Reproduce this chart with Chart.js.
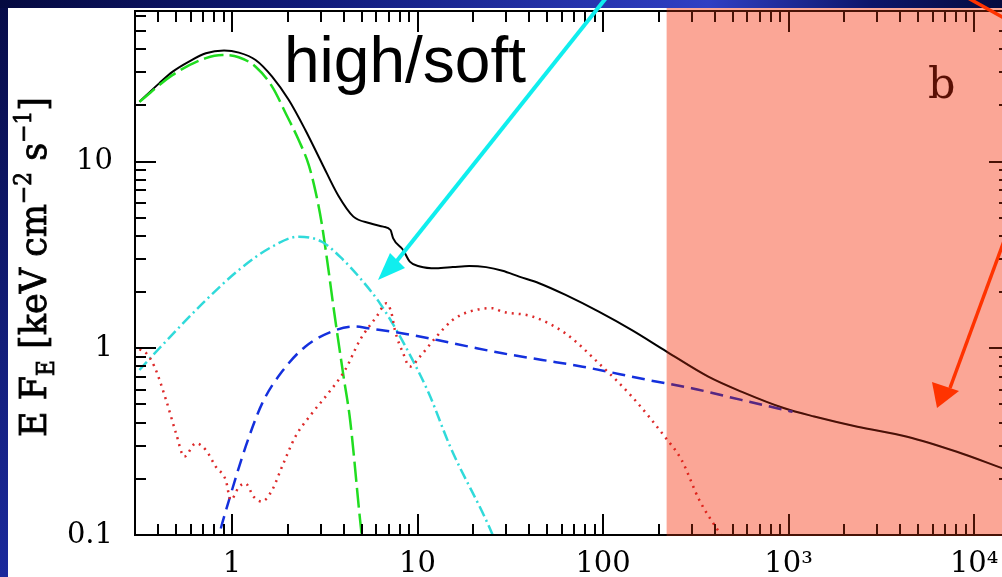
<!DOCTYPE html>
<html>
<head>
<meta charset="utf-8">
<script src="https://cdn.jsdelivr.net/npm/chart.js@4.4.0/dist/chart.umd.min.js"></script>
<style>
  html, body { margin: 0; padding: 0; overflow: hidden; background: #0b1257; }
  #wrap { position: relative; width: 1002px; height: 577px; overflow: hidden; }
  canvas { display: block; }
</style>
</head>
<body>
<div id="wrap"><canvas id="spec" width="1012" height="577"></canvas></div>
<script>
// axis ranges (keV, keV cm^-2 s^-1)
const X_MIN = 0.317, X_MAX = 15600;
const Y_MIN = 0.1, Y_MAX = 64;
const SHADE_FROM = 220;

const xTickValues = [1, 10, 100, 1000, 10000];
const xTickLabels = ["1", "10", "100", "10\u00B3", "10\u2074"];
const yTickValues = [0.1, 1, 10];
const yTickLabels = ["0.1", "1", "10"];

// total model (solid black)
const totalE = [0.317, 0.406, 0.479, 0.586, 0.723, 0.906, 1.09, 1.34, 1.645, 2.02, 2.48, 3.05, 3.73, 4.51, 5.54, 6.53, 7.15, 7.39, 8.36, 9.08, 10.3, 12.6, 15.5, 19.0, 23.4, 28.7, 35.3, 45.2, 62.8, 94.8, 143, 220, 369, 556, 949, 1374, 2350, 4355, 8070, 14130, 15600];
const totalF = [20.9, 26.3, 30.3, 34.3, 38.0, 39.3, 38.3, 35.0, 28.5, 21.4, 14.8, 9.8, 6.6, 5.07, 4.67, 4.48, 4.30, 3.88, 3.36, 2.91, 2.74, 2.68, 2.72, 2.76, 2.72, 2.60, 2.42, 2.23, 1.93, 1.57, 1.25, 0.96, 0.705, 0.586, 0.477, 0.431, 0.380, 0.336, 0.279, 0.228, 0.220];

// disc blackbody (green long dash)
const diskE = [0.317, 0.479, 0.723, 0.887, 1.086, 1.34, 1.645, 1.97, 2.29, 2.59, 2.82, 3.04, 3.31, 3.52, 3.98, 4.33, 5.0, 5.3];
const diskF = [20.9, 29.1, 35.8, 37.2, 36.2, 32.2, 25.2, 17.7, 13.0, 9.6, 6.9, 4.7, 2.63, 1.67, 0.72, 0.413, 0.1, 0.065];

// thermal comptonisation (cyan dash-dot)
const thE = [0.317, 0.406, 0.723, 1.09, 1.645, 2.29, 3.05, 3.98, 5.0, 6.27, 7.7, 9.4, 11.5, 15.0, 25.4, 27];
const thF = [0.765, 1.0, 1.81, 2.63, 3.50, 3.96, 3.72, 2.97, 2.32, 1.74, 1.25, 0.866, 0.574, 0.297, 0.1, 0.085];

// non-thermal comptonisation (blue dash)
const ntE = [0.82, 0.852, 0.964, 1.184, 1.454, 1.86, 2.48, 3.45, 4.6, 5.4, 8.36, 12.6, 19.0, 28.7, 47.0, 77.6, 175, 300, 556, 1050];
const ntF = [0.085, 0.1, 0.154, 0.297, 0.507, 0.750, 1.02, 1.23, 1.31, 1.28, 1.20, 1.11, 1.02, 0.94, 0.866, 0.797, 0.676, 0.611, 0.529, 0.457];

// reflection (red dots)
const reflE = [0.317, 0.345, 0.382, 0.441, 0.499, 0.553, 0.639, 0.723, 0.818, 0.925, 0.984, 1.09, 1.18, 1.31, 1.45, 1.645, 1.86, 2.195, 2.70, 3.30, 4.07, 4.90, 6.02, 6.8, 7.24, 7.55, 8.36, 9.08, 10.3, 12.6, 15.5, 19.0, 25.4, 28.7, 41.6, 62.8, 94.8, 143, 215, 265, 330, 416, 450];
const reflF = [0.988, 0.94, 0.797, 0.529, 0.351, 0.263, 0.310, 0.285, 0.232, 0.197, 0.154, 0.181, 0.189, 0.160, 0.151, 0.174, 0.232, 0.336, 0.449, 0.574, 0.765, 1.11, 1.48, 1.74, 1.54, 1.25, 0.94, 0.797, 0.902, 1.15, 1.42, 1.57, 1.64, 1.57, 1.48, 1.20, 0.831, 0.551, 0.336, 0.252, 0.154, 0.106, 0.095];

function pts(e, f) {
  return e.map(function (v, i) { return { x: v, y: f[i] }; });
}

function line(name, e, f, color, dash, width) {
  return {
    label: name,
    data: pts(e, f),
    borderColor: color,
    borderWidth: width,
    borderDash: dash,
    pointRadius: 0,
    fill: false,
    cubicInterpolationMode: "monotone"
  };
}

function logTicks(min, max) {
  const out = [];
  for (let p = -2; p <= 5; p++) {
    for (let m = 1; m <= 9; m++) {
      const v = m * Math.pow(10, p);
      if (v > min * 1.001 && v < max * 0.999) out.push({ v: v, major: m === 1 });
    }
  }
  return out;
}

function seg(c, x1, y1, x2, y2) {
  c.beginPath(); c.moveTo(x1, y1); c.lineTo(x2, y2); c.stroke();
}

function arrow(c, x1, y1, x2, y2, head, color, w) {
  c.strokeStyle = color; c.fillStyle = color; c.lineWidth = w;
  seg(c, x1, y1, x2, y2);
  c.beginPath();
  c.moveTo(head[0][0], head[0][1]);
  c.lineTo(head[1][0], head[1][1]);
  c.lineTo(head[2][0], head[2][1]);
  c.closePath(); c.fill();
}

function drawYTitle(c) {
  const parts = [["E F", 0, 1], ["E", 6, 0.62], [" [keV cm", 0, 1], ["\u22122", -11, 0.62], [" s", 0, 1], ["\u22121", -11, 0.62], ["]", 0, 1]];
  const size = 28;
  c.save();
  c.translate(46, 437);
  c.rotate(-Math.PI / 2);
  let w = 0;
  parts.forEach(function (p) { c.font = (size * p[2]) + "px 'DejaVu Serif'"; w += c.measureText(p[0]).width; });
  c.scale(340 / w, 1.35);
  c.fillStyle = "#000";
  c.strokeStyle = "#000";
  c.lineWidth = 0.6;
  c.textBaseline = "alphabetic";
  let x = 0;
  parts.forEach(function (p) {
    c.font = (size * p[2]) + "px 'DejaVu Serif'";
    c.fillText(p[0], x, p[1]);
    c.strokeText(p[0], x, p[1]);
    x += c.measureText(p[0]).width;
  });
  c.restore();
}

const decor = {
  id: "decor",
  beforeDraw(chart) {
    const c = chart.ctx, W = chart.width, H = chart.height;
    let g = c.createLinearGradient(0, 0, 0, H);
    g.addColorStop(0, "#070c48");
    g.addColorStop(1, "#1b2a9c");
    c.fillStyle = g;
    c.fillRect(0, 0, W, H);
    g = c.createLinearGradient(0, 0, W, 0);
    g.addColorStop(0, "#050a40");
    g.addColorStop(0.3, "#101a78");
    g.addColorStop(0.7, "#3040c4");
    g.addColorStop(0.86, "#0d166a");
    g.addColorStop(1, "#050a3c");
    c.fillStyle = g;
    c.fillRect(0, 0, W, 8);
    c.fillStyle = "#fff";
    c.fillRect(8, 8, W - 8, H - 8);
  },
  afterDatasetsDraw(chart) {
    const c = chart.ctx, a = chart.chartArea, W = chart.width;
    const xs = chart.scales.x, ys = chart.scales.y;
    c.save();
    // frame and inward ticks
    c.strokeStyle = "#000";
    c.lineWidth = 2;
    c.strokeRect(a.left, a.top, a.right - a.left, a.bottom - a.top);
    logTicks(X_MIN, X_MAX).forEach(function (t) {
      const x = Math.round(xs.getPixelForValue(t.v));
      const L = t.major ? 21 : 11;
      seg(c, x, a.bottom, x, a.bottom - L);
      seg(c, x, a.top, x, a.top + L);
    });
    logTicks(Y_MIN, Y_MAX).forEach(function (t) {
      const y = Math.round(ys.getPixelForValue(t.v));
      const L = t.major ? 21 : 11;
      seg(c, a.left, y, a.left + L, y);
      seg(c, a.right, y, a.right - L, y);
    });
    // shaded band
    const sx = xs.getPixelForValue(SHADE_FROM);
    c.globalCompositeOperation = "multiply";
    c.fillStyle = "rgb(251,166,150)";
    c.fillRect(sx, 8, W - sx, a.bottom + 1 - 8);
    c.globalCompositeOperation = "lighten";
    c.fillStyle = "rgba(240,60,20,0.3)";
    c.fillRect(sx, 8, W - sx, a.bottom + 1 - 8);
    c.globalCompositeOperation = "source-over";
    // panel letter
    c.fillStyle = "#5a1005";
    c.font = "43px 'DejaVu Serif'";
    c.textBaseline = "alphabetic";
    c.fillText("b", 928, 98);
    // label
    c.fillStyle = "#000";
    c.font = "64px 'Liberation Sans'";
    c.fillText("high/soft", 284, 82);
    // arrows
    arrow(c, 606, -2, 396, 262, [[378, 280], [390, 253], [405, 268]], "#10eeee", 4);
    arrow(c, 1004, 241, 950, 388, [[937, 408], [932, 382], [959, 391]], "#ff3300", 3.5);
    c.strokeStyle = "#ff3300";
    seg(c, 968, -2, 1004, 18);
    c.restore();
    drawYTitle(c);
  }
};

new Chart(document.getElementById("spec"), {
  type: "line",
  data: {
    datasets: [
      line("reflection", reflE, reflF, "#dd2a2a", [2, 5], 2.5),
      line("non-thermal", ntE, ntF, "#1430dd", [13, 7], 2.5),
      line("thermal", thE, thF, "#30dada", [11, 4, 2, 4], 2.5),
      line("disc", diskE, diskF, "#20dd20", [20, 6], 2.5),
      line("total", totalE, totalF, "#000000", [], 2)
    ]
  },
  options: {
    responsive: false,
    animation: false,
    events: [],
    layout: { padding: { top: 11, right: 2, bottom: 0, left: 0 } },
    plugins: { legend: { display: false }, tooltip: { enabled: false } },
    scales: {
      x: {
        type: "logarithmic",
        min: X_MIN,
        max: X_MAX,
        grid: { display: false, drawTicks: false },
        border: { display: false },
        afterBuildTicks: function (s) { s.ticks = xTickValues.map(function (v) { return { value: v }; }); },
        afterFit: function (s) { s.height = 42; s.paddingLeft = 0; s.paddingRight = 0; },
        ticks: {
          autoSkip: false,
          maxRotation: 0,
          padding: 12,
          color: "#000",
          font: { family: "DejaVu Serif", size: 29 },
          callback: function (v, i) { return xTickLabels[i]; }
        }
      },
      y: {
        type: "logarithmic",
        min: Y_MIN,
        max: Y_MAX,
        grid: { display: false, drawTicks: false },
        border: { display: false },
        afterBuildTicks: function (s) { s.ticks = yTickValues.map(function (v) { return { value: v }; }); },
        afterFit: function (s) { s.width = 135; s.paddingTop = 0; s.paddingBottom = 0; },
        ticks: {
          autoSkip: false,
          padding: 22,
          color: "#000",
          font: { family: "DejaVu Serif", size: 29 },
          callback: function (v, i) { return yTickLabels[i]; }
        }
      }
    }
  },
  plugins: [decor]
});
</script>
</body>
</html>
